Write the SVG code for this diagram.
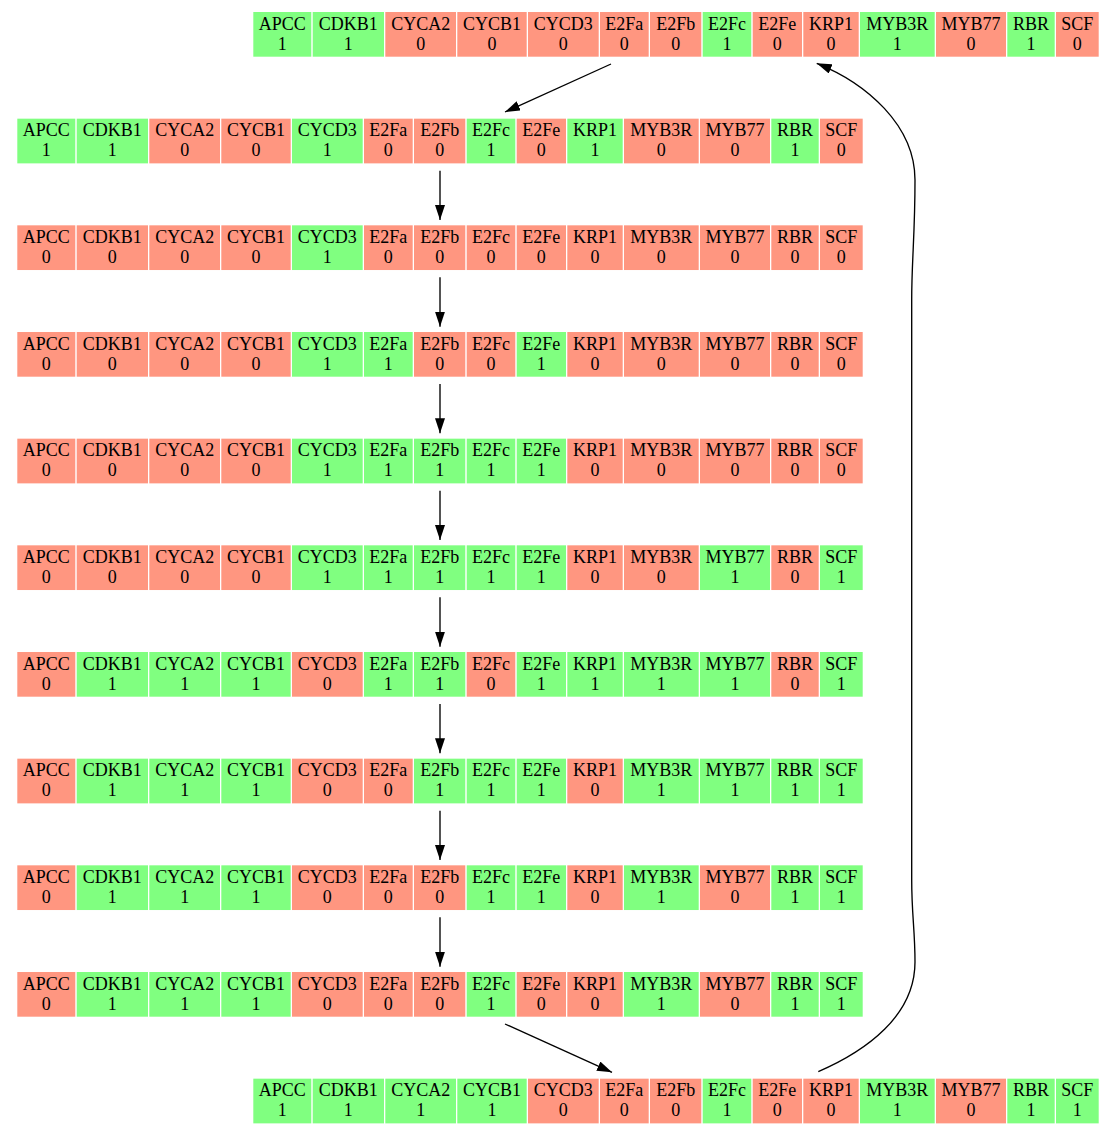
<svg xmlns="http://www.w3.org/2000/svg" width="1116" height="1136" viewBox="0 0 1116 1136">
<style>
.on{fill:#80ff80}
.off{fill:#ff9680}
text{font-family:"Liberation Serif","Times New Roman",serif;font-size:18px;text-anchor:middle;fill:#000}
.edge{stroke:#000;stroke-width:1.35;fill:none}
</style>
<defs>
<marker id="ah" markerUnits="userSpaceOnUse" markerWidth="15" markerHeight="10" refX="15" refY="5" orient="auto" viewBox="0 0 15 10"><path d="M0,0 L15,5 L0,10 z" fill="#000"/></marker>
<g id="lbl">
<text x="46.3" y="17.5">APCC</text><text x="112.35" y="17.5">CDKB1</text><text x="184.65" y="17.5">CYCA2</text><text x="256" y="17.5">CYCB1</text><text x="327.35" y="17.5">CYCD3</text><text x="388.35" y="17.5">E2Fa</text><text x="439.65" y="17.5">E2Fb</text><text x="491" y="17.5">E2Fc</text><text x="541.35" y="17.5">E2Fe</text><text x="595" y="17.5">KRP1</text><text x="661.35" y="17.5">MYB3R</text><text x="735" y="17.5">MYB77</text><text x="795" y="17.5">RBR</text><text x="841.35" y="17.5">SCF</text>
</g>
</defs>
<rect width="1116" height="1136" fill="#fff"/>

<g id="connectors">
<path class="edge" d="M611,64 L505,112" marker-end="url(#ah)"/>
<path class="edge" d="M440,170.7 L440,220" marker-end="url(#ah)"/>
<path class="edge" d="M440,277.3 L440,326.7" marker-end="url(#ah)"/>
<path class="edge" d="M440,384 L440,433.3" marker-end="url(#ah)"/>
<path class="edge" d="M440,490.7 L440,540" marker-end="url(#ah)"/>
<path class="edge" d="M440,597.3 L440,646.7" marker-end="url(#ah)"/>
<path class="edge" d="M440,704 L440,753.3" marker-end="url(#ah)"/>
<path class="edge" d="M440,810.7 L440,860" marker-end="url(#ah)"/>
<path class="edge" d="M440,917.3 L440,966.7" marker-end="url(#ah)"/>
<path class="edge" d="M505,1024 L612,1072.3" marker-end="url(#ah)"/>
<path class="edge" d="M818.3,1071.7 C866,1051 915,1016 915,962 C915,930 911.7,915 911.7,880 L911.7,300 C911.7,260 915,235 915,180 C915,125 866,83 816.7,63.3" marker-end="url(#ah)"/>
</g>

<g id="s0" transform="translate(236,12)">
<rect class="on" x="17.3" width="58" height="44.7"/><rect class="on" x="76.7" width="71.3" height="44.7"/><rect class="off" x="149.3" width="70.7" height="44.7"/><rect class="off" x="221.3" width="69.4" height="44.7"/><rect class="off" x="292" width="70.7" height="44.7"/><rect class="off" x="364" width="48.7" height="44.7"/><rect class="off" x="414" width="51.3" height="44.7"/><rect class="on" x="466.7" width="48.6" height="44.7"/><rect class="off" x="516.7" width="49.3" height="44.7"/><rect class="off" x="567.3" width="55.4" height="44.7"/><rect class="on" x="624" width="74.7" height="44.7"/><rect class="off" x="700" width="70" height="44.7"/><rect class="on" x="771.3" width="47.4" height="44.7"/><rect class="off" x="820" width="42.7" height="44.7"/>
<use href="#lbl"/>
<text x="46.3" y="37.5">1</text><text x="112.35" y="37.5">1</text><text x="184.65" y="37.5">0</text><text x="256" y="37.5">0</text><text x="327.35" y="37.5">0</text><text x="388.35" y="37.5">0</text><text x="439.65" y="37.5">0</text><text x="491" y="37.5">1</text><text x="541.35" y="37.5">0</text><text x="595" y="37.5">0</text><text x="661.35" y="37.5">1</text><text x="735" y="37.5">0</text><text x="795" y="37.5">1</text><text x="841.35" y="37.5">0</text>
</g>

<g id="s1" transform="translate(0,118.67)">
<rect class="on" x="17.3" width="58" height="44.7"/><rect class="on" x="76.7" width="71.3" height="44.7"/><rect class="off" x="149.3" width="70.7" height="44.7"/><rect class="off" x="221.3" width="69.4" height="44.7"/><rect class="on" x="292" width="70.7" height="44.7"/><rect class="off" x="364" width="48.7" height="44.7"/><rect class="off" x="414" width="51.3" height="44.7"/><rect class="on" x="466.7" width="48.6" height="44.7"/><rect class="off" x="516.7" width="49.3" height="44.7"/><rect class="on" x="567.3" width="55.4" height="44.7"/><rect class="off" x="624" width="74.7" height="44.7"/><rect class="off" x="700" width="70" height="44.7"/><rect class="on" x="771.3" width="47.4" height="44.7"/><rect class="off" x="820" width="42.7" height="44.7"/>
<use href="#lbl"/>
<text x="46.3" y="37.5">1</text><text x="112.35" y="37.5">1</text><text x="184.65" y="37.5">0</text><text x="256" y="37.5">0</text><text x="327.35" y="37.5">1</text><text x="388.35" y="37.5">0</text><text x="439.65" y="37.5">0</text><text x="491" y="37.5">1</text><text x="541.35" y="37.5">0</text><text x="595" y="37.5">1</text><text x="661.35" y="37.5">0</text><text x="735" y="37.5">0</text><text x="795" y="37.5">1</text><text x="841.35" y="37.5">0</text>
</g>

<g id="s2" transform="translate(0,225.33)">
<rect class="off" x="17.3" width="58" height="44.7"/><rect class="off" x="76.7" width="71.3" height="44.7"/><rect class="off" x="149.3" width="70.7" height="44.7"/><rect class="off" x="221.3" width="69.4" height="44.7"/><rect class="on" x="292" width="70.7" height="44.7"/><rect class="off" x="364" width="48.7" height="44.7"/><rect class="off" x="414" width="51.3" height="44.7"/><rect class="off" x="466.7" width="48.6" height="44.7"/><rect class="off" x="516.7" width="49.3" height="44.7"/><rect class="off" x="567.3" width="55.4" height="44.7"/><rect class="off" x="624" width="74.7" height="44.7"/><rect class="off" x="700" width="70" height="44.7"/><rect class="off" x="771.3" width="47.4" height="44.7"/><rect class="off" x="820" width="42.7" height="44.7"/>
<use href="#lbl"/>
<text x="46.3" y="37.5">0</text><text x="112.35" y="37.5">0</text><text x="184.65" y="37.5">0</text><text x="256" y="37.5">0</text><text x="327.35" y="37.5">1</text><text x="388.35" y="37.5">0</text><text x="439.65" y="37.5">0</text><text x="491" y="37.5">0</text><text x="541.35" y="37.5">0</text><text x="595" y="37.5">0</text><text x="661.35" y="37.5">0</text><text x="735" y="37.5">0</text><text x="795" y="37.5">0</text><text x="841.35" y="37.5">0</text>
</g>

<g id="s3" transform="translate(0,332)">
<rect class="off" x="17.3" width="58" height="44.7"/><rect class="off" x="76.7" width="71.3" height="44.7"/><rect class="off" x="149.3" width="70.7" height="44.7"/><rect class="off" x="221.3" width="69.4" height="44.7"/><rect class="on" x="292" width="70.7" height="44.7"/><rect class="on" x="364" width="48.7" height="44.7"/><rect class="off" x="414" width="51.3" height="44.7"/><rect class="off" x="466.7" width="48.6" height="44.7"/><rect class="on" x="516.7" width="49.3" height="44.7"/><rect class="off" x="567.3" width="55.4" height="44.7"/><rect class="off" x="624" width="74.7" height="44.7"/><rect class="off" x="700" width="70" height="44.7"/><rect class="off" x="771.3" width="47.4" height="44.7"/><rect class="off" x="820" width="42.7" height="44.7"/>
<use href="#lbl"/>
<text x="46.3" y="37.5">0</text><text x="112.35" y="37.5">0</text><text x="184.65" y="37.5">0</text><text x="256" y="37.5">0</text><text x="327.35" y="37.5">1</text><text x="388.35" y="37.5">1</text><text x="439.65" y="37.5">0</text><text x="491" y="37.5">0</text><text x="541.35" y="37.5">1</text><text x="595" y="37.5">0</text><text x="661.35" y="37.5">0</text><text x="735" y="37.5">0</text><text x="795" y="37.5">0</text><text x="841.35" y="37.5">0</text>
</g>

<g id="s4" transform="translate(0,438.67)">
<rect class="off" x="17.3" width="58" height="44.7"/><rect class="off" x="76.7" width="71.3" height="44.7"/><rect class="off" x="149.3" width="70.7" height="44.7"/><rect class="off" x="221.3" width="69.4" height="44.7"/><rect class="on" x="292" width="70.7" height="44.7"/><rect class="on" x="364" width="48.7" height="44.7"/><rect class="on" x="414" width="51.3" height="44.7"/><rect class="on" x="466.7" width="48.6" height="44.7"/><rect class="on" x="516.7" width="49.3" height="44.7"/><rect class="off" x="567.3" width="55.4" height="44.7"/><rect class="off" x="624" width="74.7" height="44.7"/><rect class="off" x="700" width="70" height="44.7"/><rect class="off" x="771.3" width="47.4" height="44.7"/><rect class="off" x="820" width="42.7" height="44.7"/>
<use href="#lbl"/>
<text x="46.3" y="37.5">0</text><text x="112.35" y="37.5">0</text><text x="184.65" y="37.5">0</text><text x="256" y="37.5">0</text><text x="327.35" y="37.5">1</text><text x="388.35" y="37.5">1</text><text x="439.65" y="37.5">1</text><text x="491" y="37.5">1</text><text x="541.35" y="37.5">1</text><text x="595" y="37.5">0</text><text x="661.35" y="37.5">0</text><text x="735" y="37.5">0</text><text x="795" y="37.5">0</text><text x="841.35" y="37.5">0</text>
</g>

<g id="s5" transform="translate(0,545.33)">
<rect class="off" x="17.3" width="58" height="44.7"/><rect class="off" x="76.7" width="71.3" height="44.7"/><rect class="off" x="149.3" width="70.7" height="44.7"/><rect class="off" x="221.3" width="69.4" height="44.7"/><rect class="on" x="292" width="70.7" height="44.7"/><rect class="on" x="364" width="48.7" height="44.7"/><rect class="on" x="414" width="51.3" height="44.7"/><rect class="on" x="466.7" width="48.6" height="44.7"/><rect class="on" x="516.7" width="49.3" height="44.7"/><rect class="off" x="567.3" width="55.4" height="44.7"/><rect class="off" x="624" width="74.7" height="44.7"/><rect class="on" x="700" width="70" height="44.7"/><rect class="off" x="771.3" width="47.4" height="44.7"/><rect class="on" x="820" width="42.7" height="44.7"/>
<use href="#lbl"/>
<text x="46.3" y="37.5">0</text><text x="112.35" y="37.5">0</text><text x="184.65" y="37.5">0</text><text x="256" y="37.5">0</text><text x="327.35" y="37.5">1</text><text x="388.35" y="37.5">1</text><text x="439.65" y="37.5">1</text><text x="491" y="37.5">1</text><text x="541.35" y="37.5">1</text><text x="595" y="37.5">0</text><text x="661.35" y="37.5">0</text><text x="735" y="37.5">1</text><text x="795" y="37.5">0</text><text x="841.35" y="37.5">1</text>
</g>

<g id="s6" transform="translate(0,652)">
<rect class="off" x="17.3" width="58" height="44.7"/><rect class="on" x="76.7" width="71.3" height="44.7"/><rect class="on" x="149.3" width="70.7" height="44.7"/><rect class="on" x="221.3" width="69.4" height="44.7"/><rect class="off" x="292" width="70.7" height="44.7"/><rect class="on" x="364" width="48.7" height="44.7"/><rect class="on" x="414" width="51.3" height="44.7"/><rect class="off" x="466.7" width="48.6" height="44.7"/><rect class="on" x="516.7" width="49.3" height="44.7"/><rect class="on" x="567.3" width="55.4" height="44.7"/><rect class="on" x="624" width="74.7" height="44.7"/><rect class="on" x="700" width="70" height="44.7"/><rect class="off" x="771.3" width="47.4" height="44.7"/><rect class="on" x="820" width="42.7" height="44.7"/>
<use href="#lbl"/>
<text x="46.3" y="37.5">0</text><text x="112.35" y="37.5">1</text><text x="184.65" y="37.5">1</text><text x="256" y="37.5">1</text><text x="327.35" y="37.5">0</text><text x="388.35" y="37.5">1</text><text x="439.65" y="37.5">1</text><text x="491" y="37.5">0</text><text x="541.35" y="37.5">1</text><text x="595" y="37.5">1</text><text x="661.35" y="37.5">1</text><text x="735" y="37.5">1</text><text x="795" y="37.5">0</text><text x="841.35" y="37.5">1</text>
</g>

<g id="s7" transform="translate(0,758.67)">
<rect class="off" x="17.3" width="58" height="44.7"/><rect class="on" x="76.7" width="71.3" height="44.7"/><rect class="on" x="149.3" width="70.7" height="44.7"/><rect class="on" x="221.3" width="69.4" height="44.7"/><rect class="off" x="292" width="70.7" height="44.7"/><rect class="off" x="364" width="48.7" height="44.7"/><rect class="on" x="414" width="51.3" height="44.7"/><rect class="on" x="466.7" width="48.6" height="44.7"/><rect class="on" x="516.7" width="49.3" height="44.7"/><rect class="off" x="567.3" width="55.4" height="44.7"/><rect class="on" x="624" width="74.7" height="44.7"/><rect class="on" x="700" width="70" height="44.7"/><rect class="on" x="771.3" width="47.4" height="44.7"/><rect class="on" x="820" width="42.7" height="44.7"/>
<use href="#lbl"/>
<text x="46.3" y="37.5">0</text><text x="112.35" y="37.5">1</text><text x="184.65" y="37.5">1</text><text x="256" y="37.5">1</text><text x="327.35" y="37.5">0</text><text x="388.35" y="37.5">0</text><text x="439.65" y="37.5">1</text><text x="491" y="37.5">1</text><text x="541.35" y="37.5">1</text><text x="595" y="37.5">0</text><text x="661.35" y="37.5">1</text><text x="735" y="37.5">1</text><text x="795" y="37.5">1</text><text x="841.35" y="37.5">1</text>
</g>

<g id="s8" transform="translate(0,865.33)">
<rect class="off" x="17.3" width="58" height="44.7"/><rect class="on" x="76.7" width="71.3" height="44.7"/><rect class="on" x="149.3" width="70.7" height="44.7"/><rect class="on" x="221.3" width="69.4" height="44.7"/><rect class="off" x="292" width="70.7" height="44.7"/><rect class="off" x="364" width="48.7" height="44.7"/><rect class="off" x="414" width="51.3" height="44.7"/><rect class="on" x="466.7" width="48.6" height="44.7"/><rect class="on" x="516.7" width="49.3" height="44.7"/><rect class="off" x="567.3" width="55.4" height="44.7"/><rect class="on" x="624" width="74.7" height="44.7"/><rect class="off" x="700" width="70" height="44.7"/><rect class="on" x="771.3" width="47.4" height="44.7"/><rect class="on" x="820" width="42.7" height="44.7"/>
<use href="#lbl"/>
<text x="46.3" y="37.5">0</text><text x="112.35" y="37.5">1</text><text x="184.65" y="37.5">1</text><text x="256" y="37.5">1</text><text x="327.35" y="37.5">0</text><text x="388.35" y="37.5">0</text><text x="439.65" y="37.5">0</text><text x="491" y="37.5">1</text><text x="541.35" y="37.5">1</text><text x="595" y="37.5">0</text><text x="661.35" y="37.5">1</text><text x="735" y="37.5">0</text><text x="795" y="37.5">1</text><text x="841.35" y="37.5">1</text>
</g>

<g id="s9" transform="translate(0,972)">
<rect class="off" x="17.3" width="58" height="44.7"/><rect class="on" x="76.7" width="71.3" height="44.7"/><rect class="on" x="149.3" width="70.7" height="44.7"/><rect class="on" x="221.3" width="69.4" height="44.7"/><rect class="off" x="292" width="70.7" height="44.7"/><rect class="off" x="364" width="48.7" height="44.7"/><rect class="off" x="414" width="51.3" height="44.7"/><rect class="on" x="466.7" width="48.6" height="44.7"/><rect class="off" x="516.7" width="49.3" height="44.7"/><rect class="off" x="567.3" width="55.4" height="44.7"/><rect class="on" x="624" width="74.7" height="44.7"/><rect class="off" x="700" width="70" height="44.7"/><rect class="on" x="771.3" width="47.4" height="44.7"/><rect class="on" x="820" width="42.7" height="44.7"/>
<use href="#lbl"/>
<text x="46.3" y="37.5">0</text><text x="112.35" y="37.5">1</text><text x="184.65" y="37.5">1</text><text x="256" y="37.5">1</text><text x="327.35" y="37.5">0</text><text x="388.35" y="37.5">0</text><text x="439.65" y="37.5">0</text><text x="491" y="37.5">1</text><text x="541.35" y="37.5">0</text><text x="595" y="37.5">0</text><text x="661.35" y="37.5">1</text><text x="735" y="37.5">0</text><text x="795" y="37.5">1</text><text x="841.35" y="37.5">1</text>
</g>

<g id="s10" transform="translate(236,1078.67)">
<rect class="on" x="17.3" width="58" height="44.7"/><rect class="on" x="76.7" width="71.3" height="44.7"/><rect class="on" x="149.3" width="70.7" height="44.7"/><rect class="on" x="221.3" width="69.4" height="44.7"/><rect class="off" x="292" width="70.7" height="44.7"/><rect class="off" x="364" width="48.7" height="44.7"/><rect class="off" x="414" width="51.3" height="44.7"/><rect class="on" x="466.7" width="48.6" height="44.7"/><rect class="off" x="516.7" width="49.3" height="44.7"/><rect class="off" x="567.3" width="55.4" height="44.7"/><rect class="on" x="624" width="74.7" height="44.7"/><rect class="off" x="700" width="70" height="44.7"/><rect class="on" x="771.3" width="47.4" height="44.7"/><rect class="on" x="820" width="42.7" height="44.7"/>
<use href="#lbl"/>
<text x="46.3" y="37.5">1</text><text x="112.35" y="37.5">1</text><text x="184.65" y="37.5">1</text><text x="256" y="37.5">1</text><text x="327.35" y="37.5">0</text><text x="388.35" y="37.5">0</text><text x="439.65" y="37.5">0</text><text x="491" y="37.5">1</text><text x="541.35" y="37.5">0</text><text x="595" y="37.5">0</text><text x="661.35" y="37.5">1</text><text x="735" y="37.5">0</text><text x="795" y="37.5">1</text><text x="841.35" y="37.5">1</text>
</g>
</svg>
